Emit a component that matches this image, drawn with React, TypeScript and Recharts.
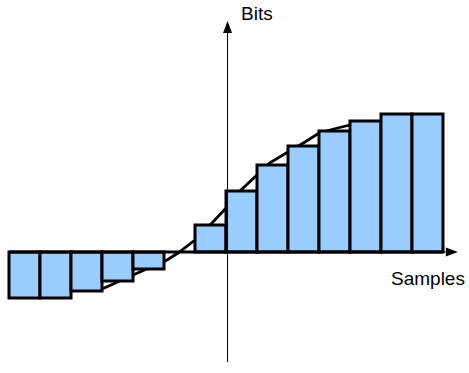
import React from "react";
import { Bar, ComposedChart, Line, ReferenceLine, XAxis, YAxis } from "recharts";

// sample index along the horizontal axis
const samples = [1, 2, 3, 4, 5, 6, 7, 8, 9, 10, 11, 12, 13, 14];
// quantised value of each sample
const sampleBits = [-46, -46, -39, -29, -17, 0, 27, 61, 87, 106, 121, 131, 138, 138];

// the underlying analogue curve (x in sample slots)
const curveX = [3, 4, 5.1, 5.45, 6, 6.55, 7, 7.45, 8, 8.4, 9, 9.55, 10, 10.6, 11];
const curveBits = [-37, -23, -8, -1, 12, 29, 44, 61, 77, 89, 100, 110, 119, 124, 127];

const yLabel = "Bits";
const xLabel = "Samples";

const barData = samples.map((s, i) => ({ sample: s, bits: sampleBits[i] }));
const curveData = curveX.map((u, i) => ({ u, bits: curveBits[i] }));

const Arrow = (props: any) => {
  const { x1, y1, x2, y2, stroke, strokeWidth } = props;
  const a = Math.atan2(y2 - y1, x2 - x1);
  const len = 12;
  const half = 4.5;
  const bx = x2 - len * Math.cos(a);
  const by = y2 - len * Math.sin(a);
  const px = -Math.sin(a) * half;
  const py = Math.cos(a) * half;
  return (
    <g>
      <line x1={x1} y1={y1} x2={bx} y2={by} stroke={stroke} strokeWidth={strokeWidth} />
      <polygon points={`${x2},${y2} ${bx + px},${by + py} ${bx - px},${by - py}`} fill={stroke} />
    </g>
  );
};

export default function App() {
  return (
    <div style={{ position: "absolute", left: 0, top: 0, width: 469, height: 373, background: "#fff" }}>
      <ComposedChart width={469} height={373} data={barData} barCategoryGap={0} margin={{ top: 21, right: 26, bottom: 11, left: 9 }}>
        <XAxis xAxisId="cat" dataKey="sample" type="category" hide />
        <XAxis xAxisId="num" dataKey="u" type="number" domain={[0, 14]} allowDataOverflow hide />
        <YAxis type="number" domain={[-110, 231]} allowDataOverflow hide />
        <Line
          xAxisId="num"
          data={curveData}
          dataKey="bits"
          type="linear"
          stroke="#000"
          strokeWidth={2.8}
          dot={false}
          isAnimationActive={false}
          zIndex={100}
        />
        <Bar xAxisId="cat" dataKey="bits" fill="#99ccff" stroke="#000" strokeWidth={3} isAnimationActive={false} />
        <ReferenceLine xAxisId="num" segment={[{ x: 0, y: 0 }, { x: 14, y: 0 }]} stroke="#000" strokeWidth={3} ifOverflow="visible" />
        <ReferenceLine
          xAxisId="num"
          segment={[{ x: 14, y: 0 }, { x: 14.48, y: 0 }]}
          stroke="#000"
          strokeWidth={1}
          ifOverflow="visible"
          shape={Arrow}
        />
        <ReferenceLine
          xAxisId="num"
          segment={[{ x: 7.05, y: -110 }, { x: 7.05, y: 231 }]}
          stroke="#000"
          strokeWidth={1}
          ifOverflow="visible"
          shape={Arrow}
        />
      </ComposedChart>
      <svg width={469} height={373} style={{ position: "absolute", left: 0, top: 0, pointerEvents: "none" }}>
        <text x={241} y={19.5} fontFamily="'Liberation Sans', Arial, sans-serif" fontSize={19} fill="#000">
          {yLabel}
        </text>
        <text x={391} y={285} fontFamily="'Liberation Sans', Arial, sans-serif" fontSize={19} fill="#000">
          {xLabel}
        </text>
      </svg>
    </div>
  );
}
